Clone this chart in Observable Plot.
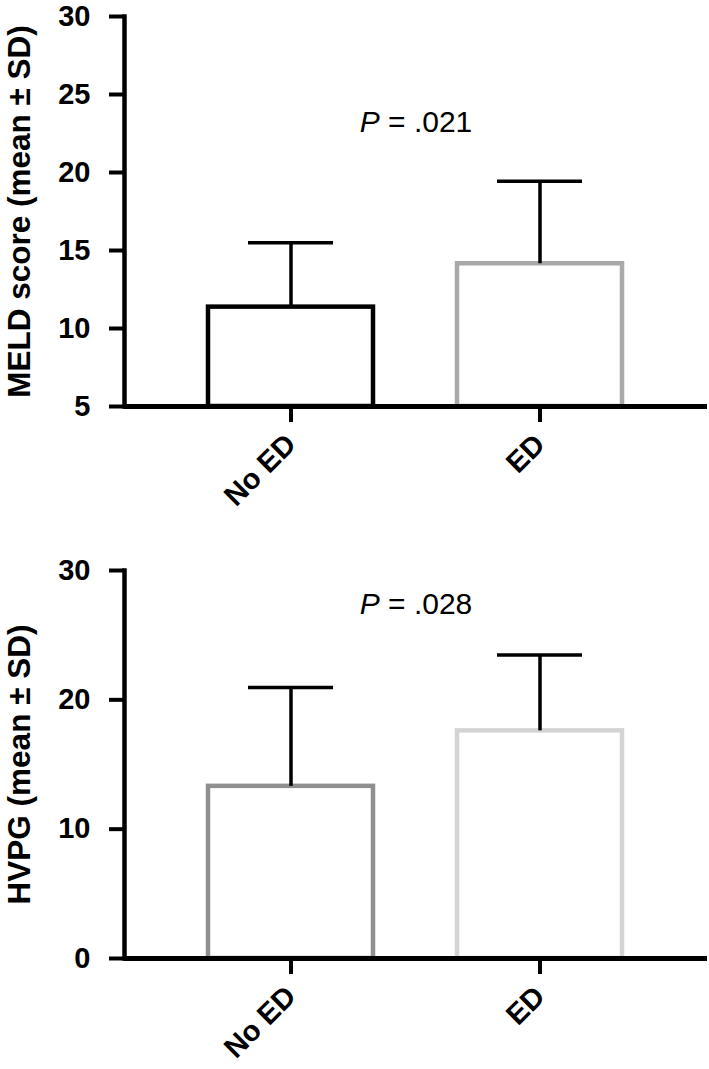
<!DOCTYPE html>
<html><head><meta charset="utf-8">
<script src="https://cdn.jsdelivr.net/npm/d3@7"></script>
<script src="https://cdn.jsdelivr.net/npm/@observablehq/plot@0.6"></script>
<style>
body{margin:0;background:#fff;}
#chart svg{display:block;}
</style></head><body><div id="chart"></div>
<script>
const groups = ["No ED", "ED"];
const meldMean = [11.37, 14.15];
const meldSD = [4.12, 5.29];
const hvpgMean = [13.31, 17.6];
const hvpgSD = [7.64, 5.87];
const meldTicks = [5, 10, 15, 20, 25, 30];
const hvpgTicks = [0, 10, 20, 30];
const meldColors = ["#000000", "#a9a9a9"];
const hvpgColors = ["#8f8f8f", "#d4d4d4"];
const meldLabel = "MELD score (mean ± SD)";
const hvpgLabel = "HVPG (mean ± SD)";
const meldP = "P = .021";
const hvpgP = "P = .028";
const meldPY = 23.2;
const hvpgPY = 27.4;

const FONT = "'Liberation Sans', Arial, Helvetica, sans-serif";

function panel({means, sds, colors, ticks, label, pText, pY, height, marginTop, marginBottom}) {
  const data = groups.map((g, i) => ({group: g, mean: means[i], hi: means[i] + sds[i]}));
  const ymin = d3.min(ticks), ymax = d3.max(ticks);
  const svg = Plot.plot({
    width: 709, height, marginLeft: 124, marginRight: 2, marginTop, marginBottom,
    style: {fontFamily: FONT, color: "#000", background: "#fff", overflow: "visible"},
    x: {domain: groups, padding: 0.336, label: null},
    y: {domain: [ymin, ymax], label: null},
    color: {domain: groups, range: colors},
    marks: [
      Plot.barY(data, {x: "group", y1: ymin, y2: "mean", fill: "#fff", stroke: "group", strokeWidth: 4.5}),
      Plot.ruleX(data, {x: "group", y1: "mean", y2: "hi", stroke: "#000", strokeWidth: 3.5}),
      Plot.tickY(data, {x: "group", y: "hi", stroke: "#000", strokeWidth: 3.5, inset: 40}),
      Plot.text([pText], {frameAnchor: "middle", y: pY, text: d => d, fontSize: 30, fill: "#000", className: "pval"}),
      Plot.axisY({ticks, tickSize: 15, tickPadding: 19, strokeWidth: 4, fontSize: 29, fontWeight: "bold", label: null}),
      Plot.axisY({ticks: [], tickSize: 0, label, labelAnchor: "center", labelOffset: 117, labelArrow: "none", fontSize: 31.5, fontWeight: "bold"}),
      Plot.axisX({tickSize: 16, strokeWidth: 4, tickRotate: -45, tickPadding: 17, fontSize: 29, fontWeight: "bold", label: null}),
      Plot.ruleY([ymin], {stroke: "#000", strokeWidth: 5}),
      Plot.frame({anchor: "left", stroke: "#000", strokeWidth: 4.5})
    ]
  });
  // italic P
  d3.select(svg).selectAll("g.pval text").each(function() {
    const t = d3.select(this);
    const s = t.text();
    t.text(null);
    t.append("tspan").attr("font-style", "italic").text(s.slice(0, 1));
    t.append("tspan").text(s.slice(1));
  });
  return svg;
}

const chart = document.getElementById("chart");
chart.appendChild(panel({means: meldMean, sds: meldSD, colors: meldColors, ticks: meldTicks, label: meldLabel, pText: meldP, pY: meldPY, height: 540, marginTop: 16, marginBottom: 134}));
chart.appendChild(panel({means: hvpgMean, sds: hvpgSD, colors: hvpgColors, ticks: hvpgTicks, label: hvpgLabel, pText: hvpgP, pY: hvpgPY, height: 529, marginTop: 30, marginBottom: 111}));
</script></body></html>
